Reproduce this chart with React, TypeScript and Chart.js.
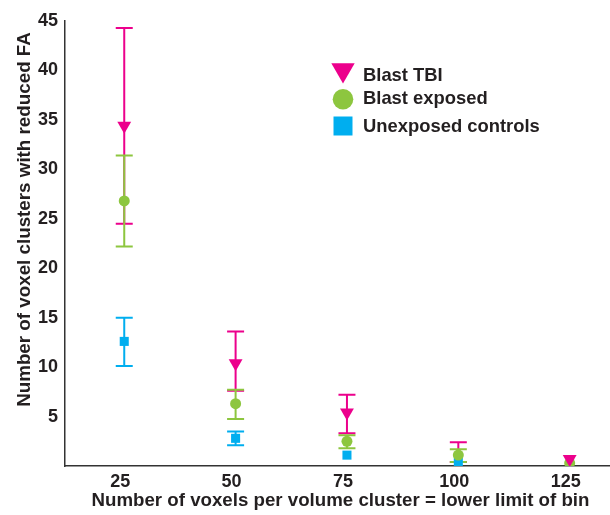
import React, { useEffect, useRef } from "react";
import { Chart, registerables } from "chart.js";

Chart.register(...registerables);

// ---- data ----
const binStarts = [25, 50, 75, 100, 125];
const yTickValues = [5, 10, 15, 20, 25, 30, 35, 40, 45];
const seriesLabels = ["Blast TBI", "Blast exposed", "Unexposed controls"];

const tbiMean = [34.4, 10.4, 5.4, null, 0.7];
const tbiUpper = [44.3, 13.6, 7.2, 2.4, null];
const tbiLower = [24.5, 7.6, 3.3, 0.4, null];

const exposedMean = [26.8, 6.3, 2.5, 1.1, 0.3];
const exposedUpper = [31.4, 7.7, 3.1, 1.7, null];
const exposedLower = [22.2, 4.75, 1.8, 0.4, null];

const controlMean = [12.6, 2.8, 1.1, 0.4, null];
const controlUpper = [15.0, 3.5, null, null, null];
const controlLower = [10.1, 2.1, null, null, null];

const xTitle = "Number of voxels per volume cluster = lower limit of bin";
const yTitle = "Number of voxel clusters with reduced FA";

// ---- styles ----
const MAGENTA = "#EC008C";
const GREEN = "#8DC63F";
const BLUE = "#00AEEF";
const INK = "#231F20";
const FONT = "'Liberation Sans', Arial, Helvetica, sans-serif";

const toPoints = (vals: (number | null)[]) =>
  binStarts.map((x, i) => ({ x, y: vals[i] }));

const errorSets = [
  { color: MAGENTA, upper: tbiUpper, lower: tbiLower },
  { color: GREEN, upper: exposedUpper, lower: exposedLower },
  { color: BLUE, upper: controlUpper, lower: controlLower },
];

const errorBarPlugin = {
  id: "errorBars",
  beforeDatasetsDraw(chart: any) {
    const { ctx, chartArea, scales } = chart;
    const xs = scales.x;
    const ys = scales.y;
    ctx.save();
    ctx.beginPath();
    ctx.rect(0, 0, chart.width, chartArea.bottom);
    ctx.clip();
    ctx.lineWidth = 2;
    ctx.lineCap = "butt";
    errorSets.forEach((set) => {
      ctx.strokeStyle = set.color;
      binStarts.forEach((b, i) => {
        const hi = set.upper[i];
        const lo = set.lower[i];
        if (hi == null || lo == null) return;
        const x = xs.getPixelForValue(b);
        const yh = ys.getPixelForValue(hi);
        const yl = ys.getPixelForValue(lo);
        const hw = 8.5;
        ctx.beginPath();
        ctx.moveTo(x, yh);
        ctx.lineTo(x, yl);
        ctx.moveTo(x - hw, yh);
        ctx.lineTo(x + hw, yh);
        ctx.moveTo(x - hw, yl);
        ctx.lineTo(x + hw, yl);
        ctx.stroke();
      });
    });
    ctx.restore();
  },
};

const legendLayout = [
  { cy: 70, textY: 80.5 },
  { cy: 99.3, textY: 104.3 },
  { cy: 126, textY: 131.5 },
];

const overlayPlugin = {
  id: "overlayText",
  afterDraw(chart: any) {
    const { ctx } = chart;
    ctx.save();
    // y axis title
    ctx.fillStyle = INK;
    ctx.font = `bold 18.8px ${FONT}`;
    ctx.textAlign = "center";
    ctx.textBaseline = "alphabetic";
    ctx.translate(30, 219.5);
    ctx.rotate(-Math.PI / 2);
    ctx.fillText(yTitle, 0, 0);
    ctx.restore();

    // legend
    ctx.save();
    const mx = 343;
    chart.data.datasets.forEach((ds: any, i: number) => {
      const { cy, textY } = legendLayout[i];
      ctx.fillStyle = ds.backgroundColor;
      ctx.beginPath();
      if (ds.pointStyle === "triangle") {
        const r = 13.5;
        ctx.moveTo(mx, cy + r);
        ctx.lineTo(mx - r * Math.sin(Math.PI / 3), cy - r / 2);
        ctx.lineTo(mx + r * Math.sin(Math.PI / 3), cy - r / 2);
        ctx.closePath();
      } else if (ds.pointStyle === "circle") {
        ctx.arc(mx, cy, 10.3, 0, Math.PI * 2);
      } else {
        ctx.rect(mx - 9.5, cy - 9.5, 19, 19);
      }
      ctx.fill();
      ctx.fillStyle = INK;
      ctx.font = `bold 18.4px ${FONT}`;
      ctx.textAlign = "left";
      ctx.textBaseline = "alphabetic";
      ctx.fillText(ds.label, 363, textY);
    });
    ctx.restore();
  },
};

export default function App() {
  const canvasRef = useRef<HTMLCanvasElement | null>(null);

  useEffect(() => {
    if (!canvasRef.current) return;
    const clip = { left: false, top: false, right: false, bottom: 0 } as any;
    const chart = new Chart(canvasRef.current, {
      type: "scatter",
      data: {
        datasets: [
          {
            label: seriesLabels[0],
            data: toPoints(tbiMean),
            pointStyle: "triangle",
            rotation: 180,
            pointRadius: 8,
            pointHoverRadius: 8,
            backgroundColor: MAGENTA,
            borderColor: MAGENTA,
            borderWidth: 0,
            showLine: false,
            clip,
          },
          {
            label: seriesLabels[1],
            data: toPoints(exposedMean),
            pointStyle: "circle",
            pointRadius: 5.5,
            pointHoverRadius: 5.5,
            backgroundColor: GREEN,
            borderColor: GREEN,
            borderWidth: 0,
            showLine: false,
            clip,
          },
          {
            label: seriesLabels[2],
            data: toPoints(controlMean),
            pointStyle: "rect",
            pointRadius: 6.4,
            pointHoverRadius: 6.4,
            backgroundColor: BLUE,
            borderColor: BLUE,
            borderWidth: 0,
            showLine: false,
            clip,
          },
        ],
      },
      options: {
        animation: false,
        responsive: true,
        maintainAspectRatio: false,
        layout: { padding: { top: 21, left: 0, right: 0, bottom: 0 } },
        plugins: {
          legend: { display: false },
          tooltip: { enabled: false },
        },
        scales: {
          x: {
            type: "linear",
            min: 11.7,
            max: 135.4,
            afterBuildTicks: (scale: any) => {
              scale.ticks = binStarts.map((v) => ({ value: v }));
            },
            afterFit: (scale: any) => {
              scale.height = 49;
            },
            grid: { display: true, drawOnChartArea: false, drawTicks: false },
            border: { display: true, color: "#333333", width: 1.5 },
            ticks: {
              color: INK,
              font: { family: FONT, size: 18, weight: "bold" },
              padding: 5,
              labelOffset: -4,
              maxRotation: 0,
              autoSkip: false,
            },
            title: {
              display: true,
              text: xTitle,
              color: INK,
              font: { family: FONT, size: 18.7, weight: "bold" },
              padding: { top: 0, bottom: 3 },
            },
          },
          y: {
            type: "linear",
            min: 0,
            max: 45,
            afterBuildTicks: (scale: any) => {
              scale.ticks = yTickValues.map((v) => ({ value: v }));
            },
            afterFit: (scale: any) => {
              scale.width = 65;
            },
            grid: { display: true, drawOnChartArea: false, drawTicks: false },
            border: { display: true, color: "#333333", width: 1.5 },
            ticks: {
              color: INK,
              font: { family: FONT, size: 18, weight: "bold" },
              padding: 7,
              autoSkip: false,
            },
          },
        },
      } as any,
      plugins: [errorBarPlugin, overlayPlugin],
    });
    return () => chart.destroy();
  }, []);

  return (
    <div
      style={{
        position: "fixed",
        left: 0,
        top: 0,
        width: 610,
        height: 515,
        overflow: "hidden",
        background: "#ffffff",
      }}
    >
      <div style={{ position: "relative", width: 624, height: 515 }}>
        <canvas ref={canvasRef} />
      </div>
    </div>
  );
}
